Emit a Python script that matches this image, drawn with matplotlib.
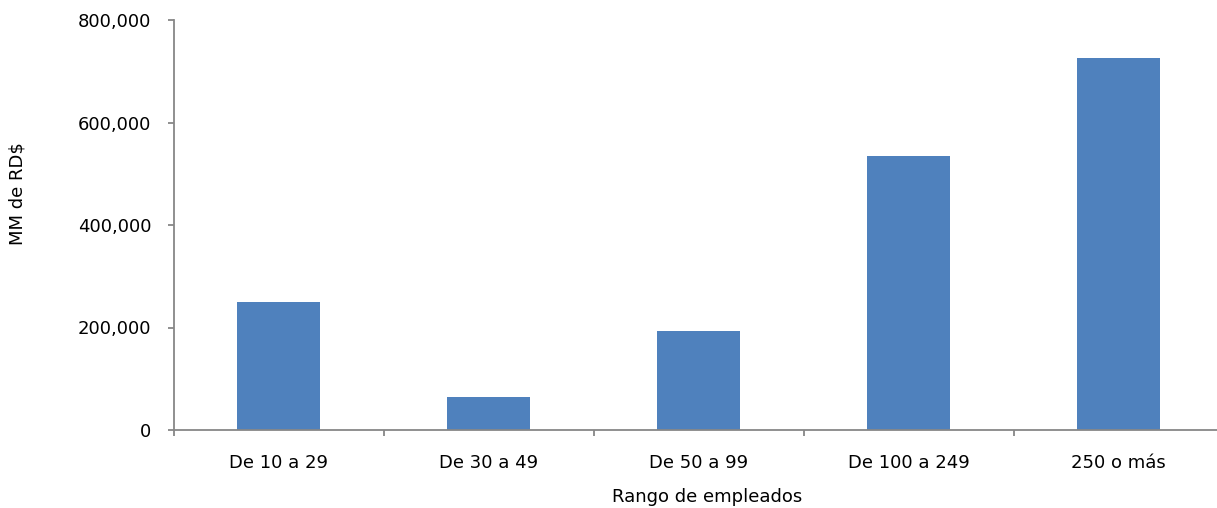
import matplotlib
matplotlib.use("Agg")
import matplotlib.pyplot as plt
from matplotlib.ticker import FuncFormatter, MultipleLocator

categories = ["De 10 a 29", "De 30 a 49", "De 50 a 99", "De 100 a 249", "250 o más"]
values = [250000, 65000, 193000, 535000, 726000]

W, H = 1217, 508
fig = plt.figure(figsize=(W / 100, H / 100), dpi=100)
plt.rcParams['font.family'] = ['DejaVu Sans']

left_px, right_px = 173.5, 1217
top_px, bot_px = 20, 430
ax = fig.add_axes([left_px / W, 1 - bot_px / H, (right_px - left_px) / W, (bot_px - top_px) / H])

x = list(range(len(categories)))
ax.bar(x, values, width=0.395, color="#4F81BD", zorder=2)

ax.set_ylim(0, 800000)
ax.yaxis.set_major_locator(MultipleLocator(200000))
ax.yaxis.set_major_formatter(FuncFormatter(lambda v, p: f"{int(v):,}"))
cat_w = 210.0
ax.set_xlim(-0.5, -0.5 + (right_px - left_px) / cat_w)
ax.set_xticks([i - 0.5 for i in range(len(categories))], minor=False)
ax.set_xticklabels([])
ax.set_xticks(x, minor=True)
ax.set_xticklabels(categories, minor=True)

axis_col = "#878787"
for s in ["top", "right"]:
    ax.spines[s].set_visible(False)
for s in ["left", "bottom"]:
    ax.spines[s].set_color(axis_col)
    ax.spines[s].set_linewidth(1.3)

ax.tick_params(axis="y", which="major", direction="out", length=4, width=1.3, color=axis_col,
               labelsize=13, pad=12, labelcolor="black")
ax.tick_params(axis="x", which="major", direction="out", length=4, width=1.3, color=axis_col)
ax.tick_params(axis="x", which="minor", length=0, labelsize=13, pad=17, labelcolor="black")

fig.text(17.5 / W, 1 - 194 / H, "MM de RD$", rotation=90, ha="center", va="center", fontsize=13)
fig.text(707 / W, 1 - 497 / H, "Rango de empleados", ha="center", va="center", fontsize=13)

fig.savefig("out.png", dpi=100)
